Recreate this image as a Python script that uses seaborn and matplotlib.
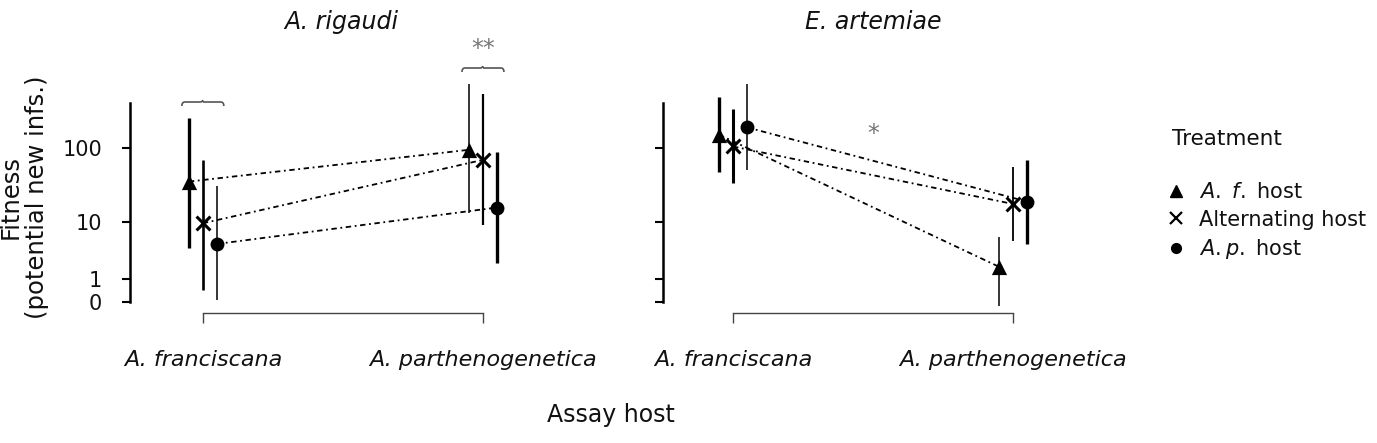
import numpy as np
import pandas as pd
import matplotlib
matplotlib.use("Agg")
import matplotlib.pyplot as plt
from matplotlib.lines import Line2D
from matplotlib.path import Path
from matplotlib.patches import PathPatch
import seaborn as sns

# ---------------- data ----------------
panels = ["A. rigaudi", "E. artemiae"]
assay_hosts = ["A. franciscana", "A. parthenogenetica"]
treatments = ["A. f. host", "Alternating host", "A.p. host"]

# mean fitness [panel][treatment][assay host]
rig_mean = {"A. f. host": [36, 95], "Alternating host": [9.6, 70], "A.p. host": [4.7, 16]}
rig_lo = {"A. f. host": [4, 13.3], "Alternating host": [0.45, 9], "A.p. host": [0.05, 2.2]}
rig_hi = {"A. f. host": [248, 692], "Alternating host": [70, 512], "A.p. host": [31, 90]}

art_mean = {"A. f. host": [150, 1.87], "Alternating host": [105, 17.9], "A.p. host": [187, 19.3]}
art_lo = {"A. f. host": [48, -0.1], "Alternating host": [34, 5.3], "A.p. host": [50.6, 4.7]}
art_hi = {"A. f. host": [463, 6.0], "Alternating host": [326, 57], "A.p. host": [692, 70]}

ytick_vals = [0, 1, 10, 100]
ytick_labels = ["0", "1", "10", "100"]

# ---------------- styles ----------------
marker_map = {"A. f. host": "^", "Alternating host": "x", "A.p. host": "o"}
offset_map = {"A. f. host": -0.05, "Alternating host": 0.0, "A.p. host": 0.05}
# error-bar thickness per panel/treatment/host (points)
bar_lw = {
    "A. rigaudi": {"A. f. host": [2.4, 1.1], "Alternating host": [1.9, 1.6], "A.p. host": [1.1, 2.4]},
    "E. artemiae": {"A. f. host": [2.4, 1.1], "Alternating host": [2.2, 1.3], "A.p. host": [1.1, 2.4]},
}

rows = []
for panel, (m, lo, hi) in zip(panels, [(rig_mean, rig_lo, rig_hi), (art_mean, art_lo, art_hi)]):
    for t in treatments:
        for i, h in enumerate(assay_hosts):
            rows.append(dict(panel=panel, treatment=t, host=h, hidx=i,
                             mean=m[t][i], lo=lo[t][i], hi=hi[t][i],
                             lw=bar_lw[panel][t][i]))
df = pd.DataFrame(rows)
df["xpos"] = df["hidx"] + df["treatment"].map(offset_map)

# ---------------- figure ----------------
sns.set_theme(style="white")
plt.rcParams["font.family"] = ["DejaVu Sans"]
plt.rcParams["mathtext.fontset"] = "dejavusans"

W, H = 1377, 443
fig = plt.figure(figsize=(W / 100, H / 100), dpi=100)

def fx(px):
    return px / W

def fy(py):
    return 1 - py / H

ax_top, ax_bot = 40, 313
ax_w = 437
axes = [
    fig.add_axes([fx(130), fy(ax_bot), fx(ax_w), (ax_bot - ax_top) / H]),
    fig.add_axes([fx(663), fy(ax_bot), fx(ax_w), (ax_bot - ax_top) / H]),
]
xlims = [(-0.26, 1.30), (-0.25, 1.31)]

fwd = lambda y: np.log10(np.maximum(np.asarray(y, dtype=float) + 1, 1e-9))
inv = lambda t: 10 ** np.asarray(t, dtype=float) - 1

TXT = "#111111"

for k, (ax, panel) in enumerate(zip(axes, panels)):
    sub = df[df.panel == panel]
    ax.set_yscale("function", functions=(fwd, inv))

    # connecting lines
    sns.lineplot(data=sub, x="xpos", y="mean", units="treatment", estimator=None,
                 color="black", lw=1.3, ax=ax, legend=False, sort=True,
                 linestyle=(0, (3, 2, 1, 2)), zorder=2)
    # error bars
    ax.vlines(sub["xpos"], sub["lo"], sub["hi"], colors="black",
              linewidths=sub["lw"], zorder=3)
    # points
    for t in treatments:
        st = sub[sub.treatment == t]
        mk = marker_map[t]
        if mk == "x":
            sns.scatterplot(x=st["xpos"], y=st["mean"], marker="x", color="black",
                            s=100, linewidth=2.2, ax=ax, zorder=4, legend=False)
        else:
            sns.scatterplot(x=st["xpos"], y=st["mean"], marker=mk, color="black",
                            s=120 if mk == "^" else 100, linewidth=0, ax=ax, zorder=4,
                            legend=False)

    ax.set_xlim(*xlims[k])
    ax.set_ylim(inv(-0.143), inv(3.412))
    ax.set_xlabel("")
    ax.set_ylabel("")
    ax.set_facecolor("none")

    for s in ["top", "right"]:
        ax.spines[s].set_visible(False)
    ax.spines["left"].set_bounds(0, 389)
    ax.spines["left"].set_linewidth(1.8)
    ax.spines["left"].set_color("black")
    ax.spines["bottom"].set_bounds(0, 1)
    ax.spines["bottom"].set_linewidth(1.0)
    ax.spines["bottom"].set_color("#444444")

    ax.set_xticks([0, 1])
    ax.set_xticklabels(assay_hosts, fontsize=16, fontstyle="italic", color=TXT)
    ax.tick_params(axis="x", direction="out", length=7, width=1.0, color="#444444",
                   pad=20, bottom=True)
    ax.set_yticks(ytick_vals)
    ax.yaxis.set_minor_locator(matplotlib.ticker.NullLocator())
    if k == 0:
        ax.set_yticklabels(ytick_labels, fontsize=15, color=TXT)
    else:
        ax.set_yticklabels([])
    ax.tick_params(axis="y", direction="out", length=6, width=1.5, color="black",
                   pad=14, left=True)

# titles
fig.text(fx(341), fy(22), "A. rigaudi", fontsize=17, fontstyle="italic",
         ha="center", va="center", color=TXT)
fig.text(fx(873), fy(22), "E. artemiae", fontsize=17, fontstyle="italic",
         ha="center", va="center", color=TXT)

# axis titles
fig.text(fx(611), fy(415), "Assay host", fontsize=17, ha="center", va="center",
         color=TXT)
fig.text(fx(24), fy(197), "Fitness\n(potential new infs.)", fontsize=17.5,
         rotation=90, ha="center", va="center", linespacing=1.1, color=TXT)

# significance braces and stars
def brace(ax, x0, x1, y_px_top):
    disp = ax.transData
    X0 = disp.transform((x0, 1))[0]
    X1 = disp.transform((x1, 1))[0]
    Ytop = (H - y_px_top)
    h = 5
    xm = (X0 + X1) / 2
    verts = [(X0, Ytop - h), (X0, Ytop - 1), (X0 + 3, Ytop - 1),
             (xm - 3, Ytop - 1), (xm, Ytop - 1), (xm, Ytop + 1),
             (xm, Ytop - 1), (xm + 3, Ytop - 1),
             (X1 - 3, Ytop - 1), (X1, Ytop - 1), (X1, Ytop - h)]
    codes = [Path.MOVETO, Path.CURVE3, Path.CURVE3, Path.LINETO, Path.CURVE3,
             Path.CURVE3, Path.MOVETO, Path.CURVE3, Path.LINETO, Path.CURVE3, Path.CURVE3]
    p = PathPatch(Path(verts, codes), transform=None, fill=False,
                  edgecolor="#555555", lw=1.2)
    fig.add_artist(p)

fig.canvas.draw()
brace(axes[0], -0.075, 0.075, 101)
brace(axes[0], 0.925, 1.075, 67)
fig.text(fx(483), fy(49), "**", fontsize=17, color="#777777", ha="center", va="center")
fig.text(fx(873), fy(134), "*", fontsize=17, color="#777777", ha="center", va="center")

# legend
fig.text(fx(1172), fy(139), "Treatment", fontsize=15.5, ha="left", va="center",
         color=TXT)
handles = [
    Line2D([], [], marker="^", color="black", ls="none", markersize=8),
    Line2D([], [], marker="x", color="black", ls="none", markersize=8, markeredgewidth=1.6),
    Line2D([], [], marker="o", color="black", ls="none", markersize=7),
]
labels = [r"$\it{A.\ f.}$ host", "Alternating host", r"$\it{A.p.}$ host"]
leg = fig.legend(handles, labels, loc="upper left", bbox_to_anchor=(fx(1168), fy(182)),
                 frameon=False, fontsize=15, handlelength=0.8, handletextpad=0.7,
                 labelspacing=0.36, borderpad=0, borderaxespad=0)
for t in leg.get_texts():
    t.set_color(TXT)

fig.savefig("out.png", dpi=100)
